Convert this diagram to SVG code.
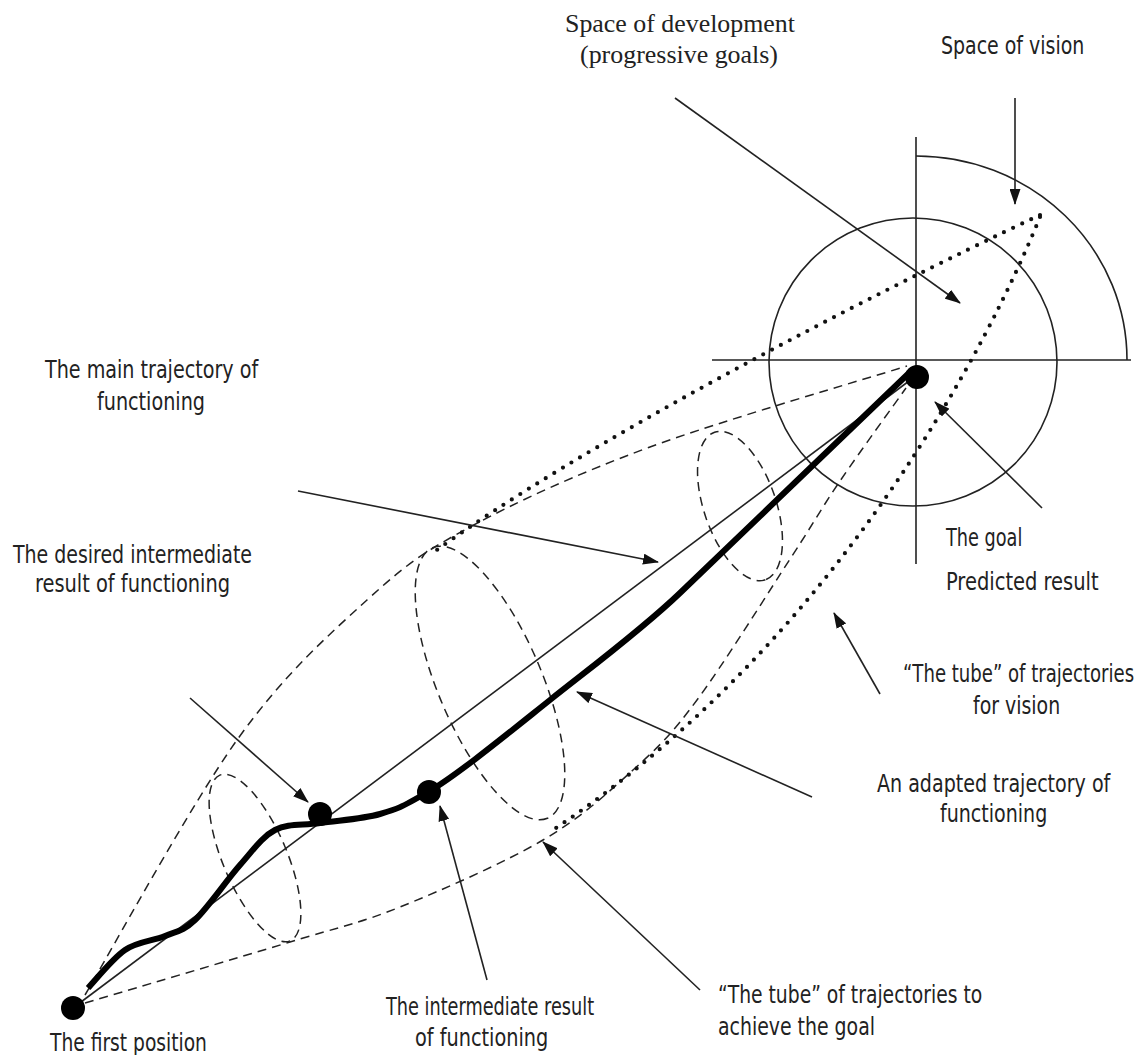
<svg xmlns="http://www.w3.org/2000/svg" width="1139" height="1055" viewBox="0 0 1139 1055">
<defs>
<marker id="ah" markerWidth="16" markerHeight="11" refX="15" refY="5.5" orient="auto" markerUnits="userSpaceOnUse">
<path d="M0,0 L16,5.5 L0,11 z" fill="#111"/>
</marker>
<style>
.bg{fill:#fff}
.ln{fill:none;stroke:#222;stroke-width:1.6}
.ar{fill:none;stroke:#222;stroke-width:1.6;marker-end:url(#ah)}
.da{fill:none;stroke:#222;stroke-width:1.5;stroke-dasharray:9 6}
.dt{fill:none;stroke:#111;stroke-width:4.2;stroke-dasharray:0 10;stroke-linecap:round}
.th{fill:none;stroke:#000;stroke-width:6;stroke-linecap:butt}
.dot{fill:#000}
.t{font-family:"DejaVu Sans Condensed","Liberation Sans Narrow","Liberation Sans",sans-serif;font-size:25px;fill:#222}
.s{font-family:"Liberation Serif","DejaVu Serif",serif;font-size:25px;fill:#222}
</style>
</defs>
<rect class="bg" x="0" y="0" width="1139" height="1055"/>

<g id="axes">
<line class="ln" x1="916" y1="137" x2="916" y2="564"/>
<line class="ln" x1="712" y1="360" x2="1131" y2="360"/>
<circle class="ln" cx="913" cy="362" r="144"/>
<path class="ln" d="M916,156 A211,204 0 0 1 1127,360"/>
</g>

<g id="tubes">
<path id="upper-dashed" class="da" d="M85,995 C110.3,952.5 190,805.8 237,740 C284,674.2 328.2,635.5 367,600 C405.8,564.5 422.8,552.5 470,527 C517.2,501.5 577.2,473.8 650,447 C722.8,420.2 864.2,379.5 907,366"/>
<path id="lower-dashed" class="da" d="M85,1003 C119.2,992.8 237.5,958 290,942 C342.5,926 357.8,924 400,907 C442.2,890 504.2,862.8 543,840 C581.8,817.2 607.3,793.3 633,770 C658.7,746.7 670.5,735.7 697,700 C723.5,664.3 768.2,592.5 792,556 C815.8,519.5 821,509 840,481 C859,453 895,403.5 906,388"/>
<ellipse id="ell-small" class="da" cx="255" cy="858" rx="90" ry="32" transform="rotate(67 255 858)"/>
<ellipse id="ell-mid" class="da" cx="490" cy="683" rx="147" ry="52" transform="rotate(67 490 683)"/>
<ellipse id="ell-right" class="da" cx="740" cy="506" rx="78" ry="36" transform="rotate(71 740 506)"/>
<path id="upper-dotted" class="dt" d="M1040,215 C860,300 580,445 430,555"/>
<path id="lower-dotted" class="dt" d="M1040,217 C990,340 840,640 550,832"/>
</g>

<g id="trajectories">
<line id="main-trajectory" class="ln" x1="73" y1="1008" x2="913" y2="378"/>
<path id="adapted-trajectory" class="th" d="M88,988 C94.2,981.7 112.2,958.7 125,950 C137.8,941.3 153.3,941 165,936 C176.7,931 182.5,931.8 195,920 C207.5,908.2 226.7,880 240,865 C253.3,850 261.7,837 275,830 C288.3,823 302.5,825.7 320,823 C337.5,820.3 362,819.2 380,814 C398,808.8 399.7,808.2 428,792 C456.3,775.8 508.3,733.2 550,700 C591.7,666.8 641.8,629.7 680,593 C718.2,556.3 870.8,409.7 909,373"/>
</g>

<g id="node-first"><circle class="dot" cx="73" cy="1008" r="12"/><text class="t" transform="translate(50 1051) scale(0.72 1)" textLength="218" lengthAdjust="spacingAndGlyphs">The first position</text></g>
<g id="node-desired"><circle class="dot" cx="320" cy="814" r="12"/></g>
<g id="node-intermediate"><circle class="dot" cx="429" cy="792" r="12"/></g>
<g id="node-goal"><circle class="dot" cx="917" cy="377" r="12"/></g>

<g id="connectors">
<line class="ar" x1="675" y1="98" x2="960" y2="303"/>
<line class="ar" x1="1015" y1="98" x2="1015" y2="204"/>
<line class="ar" x1="298" y1="491" x2="658" y2="562"/>
<line class="ar" x1="190" y1="698" x2="308" y2="802"/>
<line class="ar" x1="487" y1="980" x2="440" y2="806"/>
<line class="ar" x1="700" y1="990" x2="543" y2="842"/>
<line class="ar" x1="812" y1="797" x2="577" y2="692"/>
<line class="ar" x1="880" y1="694" x2="834" y2="613"/>
<line class="ar" x1="1042" y1="508" x2="935" y2="402"/>
</g>

<g id="labels">
<text class="s" x="565" y="32" textLength="230" lengthAdjust="spacingAndGlyphs">Space of development</text>
<text class="s" x="580" y="63" textLength="198" lengthAdjust="spacingAndGlyphs">(progressive goals)</text>
<text class="t" transform="translate(941 54) scale(0.72 1)" textLength="199" lengthAdjust="spacingAndGlyphs">Space of vision</text>
<text class="t" transform="translate(45 378) scale(0.72 1)" textLength="296" lengthAdjust="spacingAndGlyphs">The main trajectory of</text>
<text class="t" transform="translate(97 410) scale(0.72 1)" textLength="150" lengthAdjust="spacingAndGlyphs">functioning</text>
<text class="t" transform="translate(13 563) scale(0.72 1)" textLength="332" lengthAdjust="spacingAndGlyphs">The desired intermediate</text>
<text class="t" transform="translate(35 592) scale(0.72 1)" textLength="271" lengthAdjust="spacingAndGlyphs">result of functioning</text>
<text class="t" transform="translate(946 546) scale(0.72 1)" textLength="106" lengthAdjust="spacingAndGlyphs">The goal</text>
<text class="t" transform="translate(946 590) scale(0.72 1)" textLength="212" lengthAdjust="spacingAndGlyphs">Predicted result</text>
<text class="t" transform="translate(903 682) scale(0.72 1)" textLength="321" lengthAdjust="spacingAndGlyphs">“The tube” of trajectories</text>
<text class="t" transform="translate(973 714) scale(0.72 1)" textLength="121" lengthAdjust="spacingAndGlyphs">for vision</text>
<text class="t" transform="translate(877 792) scale(0.72 1)" textLength="324" lengthAdjust="spacingAndGlyphs">An adapted trajectory of</text>
<text class="t" transform="translate(940 822) scale(0.72 1)" textLength="149" lengthAdjust="spacingAndGlyphs">functioning</text>
<text class="t" transform="translate(718 1003) scale(0.72 1)" textLength="367" lengthAdjust="spacingAndGlyphs">“The tube” of trajectories to</text>
<text class="t" transform="translate(718 1035) scale(0.72 1)" textLength="218" lengthAdjust="spacingAndGlyphs">achieve the goal</text>
<text class="t" transform="translate(386 1015) scale(0.72 1)" textLength="289" lengthAdjust="spacingAndGlyphs">The intermediate result</text>
<text class="t" transform="translate(415 1046) scale(0.72 1)" textLength="185" lengthAdjust="spacingAndGlyphs">of functioning</text>
</g>
</svg>
